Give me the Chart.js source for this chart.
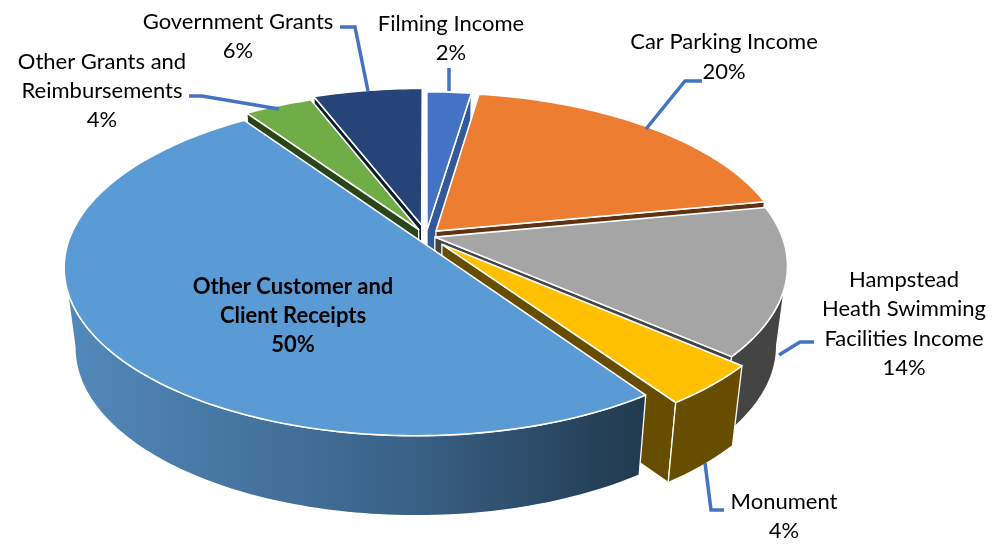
<!DOCTYPE html>
<html lang="en">
<head>
  <meta charset="UTF-8">
  <title>Income by source</title>
  <script src="https://cdn.jsdelivr.net/npm/chart.js"></script>
  <style>
    html, body { margin: 0; background: #fff; }
    #wrap { width: 1000px; height: 548px; }
  </style>
</head>
<body>
  <div id="wrap"><canvas id="pie" width="1000" height="548"></canvas></div>

  <script>
    // values, the printed labels are rounded
    const categories = ['Filming Income', 'Car Parking Income', 'Hampstead Heath Swimming Facilities Income',
      'Monument', 'Other Customer and Client Receipts', 'Other Grants and Reimbursements', 'Government Grants'];
    const shares = [2.4, 19.6, 14.3, 4.06, 50, 3.7, 5.94];
    const percentLabels = ['2%', '20%', '14%', '4%', '50%', '4%', '6%'];

    // styling, separate from the data
    const topColors = ['#4472c4', '#ed7d31', '#a5a5a5', '#ffc000', '#5b9bd5', '#70ad47', '#264478'];
    const wallColors = ['#34599b', '#5f3214', '#444444', '#664d00', '#2f5273', '#2a4519', '#0f1c30'];
    const explode = [10, 11, 7, 18, 8, 12, 18];     // px, for a radius of about 250
    const paintOrder = [0, 6, 5, 1, 2, 3, 4];       // back to front

    // how the flat pie is laid over into perspective
    const CX = 426, CY = 236, RX = 347, RY = 163, K = 0.167, DEPTH = 80, SHRINK = 0.03;

    function project(u, v, h) {
      const w = 1 / (1 - K * v);
      const s = 1 - SHRINK * h;
      return [CX + RX * u * w * s, CY + RY * v * w + DEPTH * h];
    }

    function pathOf(ctx, pts) {
      ctx.beginPath();
      pts.forEach((p, i) => i ? ctx.lineTo(p[0], p[1]) : ctx.moveTo(p[0], p[1]));
      ctx.closePath();
    }

    function paintSlice(ctx, el, i) {
      const a0 = el.startAngle, a1 = el.endAngle, mid = (a0 + a1) / 2;
      const off = el.options.offset / el.outerRadius;
      const ox = Math.cos(mid) * off, oy = Math.sin(mid) * off;
      const steps = Math.ceil((a1 - a0) / 0.02);
      const edge = (a, h) => project(ox + Math.cos(a), oy + Math.sin(a), h);
      const top = [];
      for (let s = 0; s <= steps; s++) top.push(edge(a0 + (a1 - a0) * s / steps, 0));
      const apexTop = project(ox, oy, 0), apexBottom = project(ox, oy, 1);

      ctx.lineJoin = 'round';
      ctx.strokeStyle = '#ffffff';
      ctx.lineWidth = 1.3;

      // radial side walls, only the ones turned to the viewer
      ctx.fillStyle = wallColors[i];
      if (-Math.cos(a0) > 0.001) {
        pathOf(ctx, [apexTop, edge(a0, 0), edge(a0, 1), apexBottom]);
        ctx.fill(); ctx.stroke();
      }
      if (Math.cos(a1) > 0.001) {
        pathOf(ctx, [apexTop, edge(a1, 0), edge(a1, 1), apexBottom]);
        ctx.fill(); ctx.stroke();
      }

      // outer wall, the part of the circle below its widest point
      const front = [];
      for (let s = 0; s <= steps; s++) {
        const a = a0 + (a1 - a0) * s / steps;
        if (Math.sin(a) > K) front.push(a);
      }
      if (front.length > 1) {
        let wallFill = wallColors[i];
        if (i === 4) {
          // the big slice fades from light to dark along its wall
          const g = ctx.createLinearGradient(64, 0, 640, 0);
          g.addColorStop(0, '#5289bc');
          g.addColorStop(0.6, '#3a6186');
          g.addColorStop(1, '#213a50');
          wallFill = g;
        }
        ctx.fillStyle = wallFill;
        pathOf(ctx, front.map(a => edge(a, 0)).concat(front.slice().reverse().map(a => edge(a, 1))));
        ctx.fill();
        ctx.stroke();
      }

      ctx.fillStyle = topColors[i];
      pathOf(ctx, [apexTop].concat(top));
      ctx.fill();
      ctx.lineWidth = 1.6;
      ctx.stroke();
    }

    const pie3d = {
      id: 'pie3d',
      beforeDatasetsDraw(chart) {
        const ctx = chart.ctx;
        const arcs = chart.getDatasetMeta(0).data;
        ctx.save();
        paintOrder.forEach(i => paintSlice(ctx, arcs[i], i));
        ctx.restore();
        return false;
      }
    };

    // wrapped label lines and their leader lines
    const wrappedNames = [['Filming Income'], ['Car Parking Income'],
      ['Hampstead', 'Heath Swimming', 'Facilities Income'], ['Monument'],
      ['Other Customer and', 'Client Receipts'], ['Other Grants and', 'Reimbursements'], ['Government Grants']];
    const labelBoxes = [
      { x: 451, y: 24, step: 29 }, { x: 724, y: 42, step: 30 }, { x: 904, y: 280, step: 29.3 },
      { x: 784, y: 502, step: 29 }, { x: 293, y: 287, step: 29, bold: true },
      { x: 102, y: 62, step: 29 }, { x: 238, y: 22, step: 29 }
    ];
    const leaders = [
      [[449, 68], [449, 91]],
      [[702, 81], [685, 81], [646, 129]],
      [[814, 342], [800, 342], [779, 355]],
      [[705, 463], [711, 510], [724, 510]],
      [],
      [[189, 96], [202, 96], [279, 109]],
      [[340, 27], [355, 27], [368, 91]]
    ];

    const calloutLabels = {
      id: 'calloutLabels',
      afterDraw(chart) {
        const ctx = chart.ctx;
        ctx.save();
        ctx.strokeStyle = '#4472c4';
        ctx.lineWidth = 3.5;
        leaders.forEach(line => {
          if (!line.length) return;
          ctx.beginPath();
          line.forEach((p, i) => i ? ctx.lineTo(p[0], p[1]) : ctx.moveTo(p[0], p[1]));
          ctx.stroke();
        });
        ctx.fillStyle = '#000000';
        ctx.textAlign = 'center';
        ctx.textBaseline = 'middle';
        labelBoxes.forEach((box, i) => {
          ctx.font = (box.bold ? 'bold ' : '') + '22px Lato';
          wrappedNames[i].concat(percentLabels[i]).forEach((txt, n) => {
            ctx.fillText(txt, box.x, box.y + n * box.step);
          });
        });
        ctx.restore();
      }
    };

    new Chart(document.getElementById('pie').getContext('2d'), {
      type: 'pie',
      data: {
        labels: categories,
        datasets: [{ data: shares, backgroundColor: topColors, offset: explode, borderWidth: 0 }]
      },
      options: {
        responsive: false,
        animation: false,
        plugins: { legend: { display: false }, tooltip: { enabled: false } }
      },
      plugins: [pie3d, calloutLabels]
    });
  </script>
</body>
</html>
